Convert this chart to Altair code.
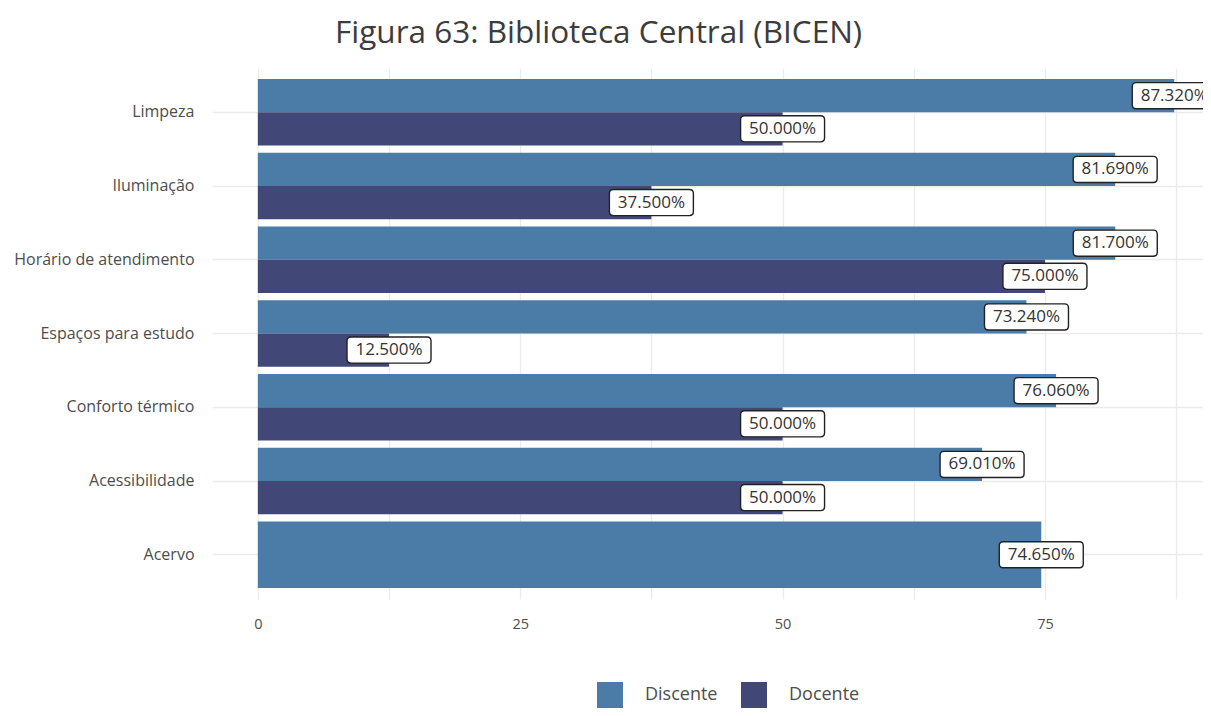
import altair as alt
import pandas as pd

categorias = ["Limpeza", "Iluminação", "Horário de atendimento", "Espaços para estudo",
              "Conforto térmico", "Acessibilidade", "Acervo"]
discente = [87.32, 81.69, 81.70, 73.24, 76.06, 69.01, 74.65]
docente = [50.0, 37.5, 75.0, 12.5, 50.0, 50.0, None]
grupos = ["Discente", "Docente"]
cores = ["#4b7ba7", "#414878"]

rows = []
for c, d, p in zip(categorias, discente, docente):
    rows.append({"cat": c, "grupo": "Discente", "valor": d, "par": p is not None})
    if p is not None:
        rows.append({"cat": c, "grupo": "Docente", "valor": p, "par": True})
df = pd.DataFrame(rows)
df["rotulo"] = df["valor"].map(lambda v: f"{v:.3f}%")

FONT = "Open Sans"
xscale = alt.Scale(domain=[-4.366, 90.06], nice=False, zero=False)
yscale = alt.Scale(domain=categorias, paddingInner=0.1, paddingOuter=0.15)
cscale = alt.Scale(domain=grupos, range=cores)
offscale = alt.Scale(domain=grupos, paddingInner=0, paddingOuter=0)

x_enc = alt.X("valor:Q", scale=xscale, title=None,
              axis=alt.Axis(values=[0, 12.5, 25, 37.5, 50, 62.5, 75, 87.5],
                            labelExpr="datum.value % 25 == 0 ? datum.label : ''",
                            grid=True, gridColor="#ebebeb", gridWidth=1.3,
                            domain=False, ticks=False, labelPadding=18,
                            labelFontSize=14.5, labelColor="#4d4d4d", labelFont=FONT))
y_enc = alt.Y("cat:N", scale=yscale, title=None, sort=categorias,
              axis=alt.Axis(grid=True, gridColor="#ebebeb", gridWidth=1.3, bandPosition=0.5,
                            domain=False, ticks=False, labelPadding=18, labelLimit=400,
                            labelFontSize=16, labelColor="#4d4d4d", labelFont=FONT))
color_enc = alt.Color("grupo:N", scale=cscale, title=None,
                      legend=alt.Legend(orient="none", direction="horizontal",
                                        legendX=385, legendY=614,
                                        symbolType="square", symbolSize=676,
                                        symbolStrokeWidth=0, symbolOpacity=1,
                                        labelFontSize=18, labelColor="#4d4d4d",
                                        labelFont=FONT, columnPadding=23, labelOffset=22))

base_par = alt.Chart(df).transform_filter("datum.par")
base_solo = alt.Chart(df).transform_filter("!datum.par")

bars_par = base_par.mark_bar(opacity=1).encode(
    x=x_enc, y=y_enc, yOffset=alt.YOffset("grupo:N", scale=offscale), color=color_enc)
bars_solo = base_solo.mark_bar(opacity=1).encode(x=x_enc, y=y_enc, color=color_enc)

box_path = ("M -0.905 -0.31 L 0.905 -0.31 Q 1 -0.31 1 -0.215 L 1 0.215 Q 1 0.31 0.905 0.31 "
            "L -0.905 0.31 Q -1 0.31 -1 0.215 L -1 -0.215 Q -1 -0.31 -0.905 -0.31 Z")
box_props = dict(shape=box_path, size=84 * 84, filled=True, fill="white",
                 stroke="#222222", strokeWidth=1.4, opacity=1)
txt_props = dict(fontSize=17, font=FONT, color="#333333", align="center", baseline="middle")

boxes_par = base_par.mark_point(**box_props).encode(
    x="valor:Q", y="cat:N", yOffset=alt.YOffset("grupo:N", scale=offscale))
text_par = base_par.mark_text(**txt_props).encode(
    x="valor:Q", y="cat:N", yOffset=alt.YOffset("grupo:N", scale=offscale), text="rotulo:N")
boxes_solo = base_solo.mark_point(**box_props).encode(x="valor:Q", y="cat:N")
text_solo = base_solo.mark_text(**txt_props).encode(x="valor:Q", y="cat:N", text="rotulo:N")

chart = alt.layer(bars_par, bars_solo, boxes_par, text_par, boxes_solo, text_solo).properties(
    width=991, height=531,
    autosize=alt.AutoSizeParams(type="none"),
    padding={"left": 204, "top": 60, "right": 0, "bottom": 109},
    title=alt.TitleParams("Figura 63: Biblioteca Central (BICEN)", anchor="start", frame="group",
                          dx=123, fontSize=31.5, font=FONT, fontWeight="normal", color="#3c3c3c",
                          offset=19),
).configure_view(stroke=None).configure_axis(labelFont=FONT)

chart.save("out.html", embed_options={"renderer": "svg", "actions": False})
